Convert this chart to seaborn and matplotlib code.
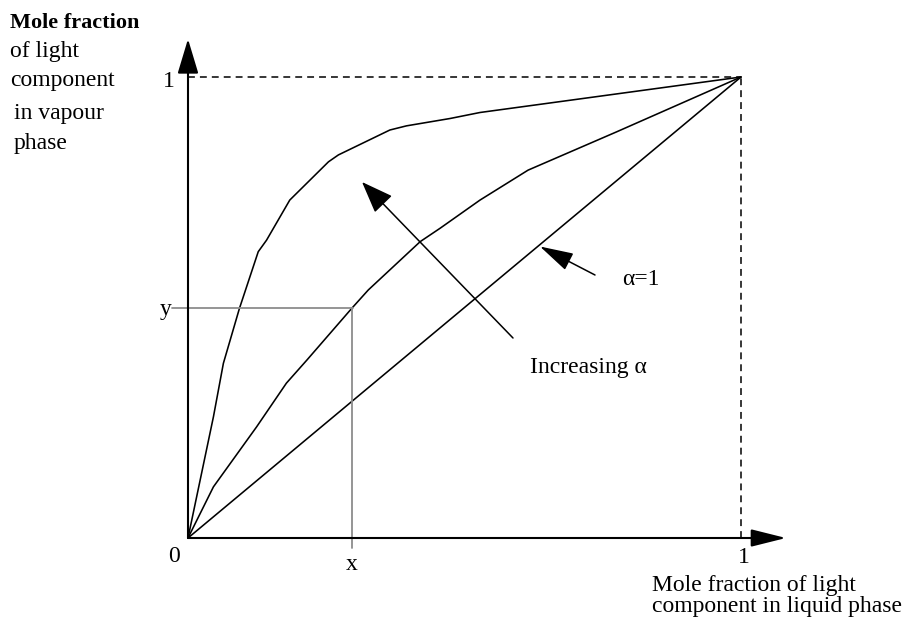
import matplotlib
matplotlib.use("Agg")
import matplotlib.pyplot as plt
import seaborn as sns
import pandas as pd

# ---- data ----
upper_x = [0.0, 0.046, 0.064, 0.093, 0.127, 0.142, 0.184, 0.254, 0.272, 0.365, 0.395, 0.474, 0.528, 1.0]
upper_y = [0.0, 0.263, 0.379, 0.498, 0.621, 0.646, 0.733, 0.816, 0.831, 0.885, 0.894, 0.910, 0.923, 1.0]
middle_x = [0.0, 0.046, 0.124, 0.178, 0.215, 0.296, 0.326, 0.420, 0.456, 0.528, 0.615, 0.775, 1.0]
middle_y = [0.0, 0.111, 0.241, 0.336, 0.386, 0.498, 0.538, 0.643, 0.672, 0.733, 0.798, 0.881, 1.0]
diag_x = [0.0, 1.0]
diag_y = [0.0, 1.0]
x_read = 0.296
y_read = 0.498

y_label_lines = ["Mole fraction", "of light", "component", "in vapour", "phase"]
x_label_lines = ["Mole fraction of light", "component in liquid phase"]

sns.set_theme(style="white")
plt.rcParams['font.family'] = ['Liberation Serif', 'DejaVu Serif']

W, H = 909, 626
fig = plt.figure(figsize=(W / 100, H / 100), dpi=100)
ax = fig.add_axes([0, 0, 1, 1])
X0, Y0, SX, SY = 188, 538, 553, 461
ax.set_xlim(-X0 / SX, (W - X0) / SX)
ax.set_ylim((Y0 - H) / SY, Y0 / SY)
ax.axis('off')


def P(px, py):
    return ((px - X0) / SX, (Y0 - py) / SY)


FS = 17
K = 'black'

# curves
for xs, ys in [(upper_x, upper_y), (middle_x, middle_y), (diag_x, diag_y)]:
    df = pd.DataFrame({"x": xs, "y": ys})
    sns.lineplot(data=df, x="x", y="y", sort=False, estimator=None,
                 color=K, lw=1.15, ax=ax)

# dashed unit box
ax.plot([0, 1], [1, 1], color=K, lw=1.1, ls=(0, (4.5, 3.3)))
ax.plot([1, 1], [0, 1], color=K, lw=1.1, ls=(0, (4.5, 3.3)))

# gray read-off lines
gx0, _ = P(172, 0)
_, gy0 = P(0, 548)
ax.plot([gx0, x_read + 0.003], [y_read, y_read], color='#8c8c8c', lw=1.3)
ax.plot([x_read, x_read], [y_read, gy0], color='#8c8c8c', lw=1.3)


def arrow(tip, tail, L, Wd, lw):
    ax.annotate('', xy=tip, xytext=tail,
                arrowprops=dict(arrowstyle=f'-|>,head_length={L},head_width={Wd}',
                                mutation_scale=1, lw=lw, color=K,
                                shrinkA=0, shrinkB=0))


# axes with arrows
arrow(P(786, 538), (0, 0), 21.6, 5.4, 1.5)
arrow(P(188, 39), (0, 0), 21.6, 6.5, 1.5)

# annotation arrows
arrow(P(362, 182), P(513, 338), 20, 7.6, 1.1)
arrow(P(540, 246.5), P(595, 275), 21, 5.8, 1.1)


def T(px, py, s, ha='left', fs=FS, **kw):
    fig.text(px / W, 1 - py / H, s, ha=ha, va='baseline', fontsize=fs, color=K, **kw)


# y label block
base = [28, 57, 86, 119, 149]
xs_lab = [10, 10, 10, 14, 14]
for i, (line, b, xl) in enumerate(zip(y_label_lines, base, xs_lab)):
    if i == 0:
        T(xl, b, line, fs=16, fontweight='bold')
    else:
        T(xl, b, line)

# ticks / labels
T(175, 87, "1", ha='right')
T(172, 315, "y", ha='right')
T(180, 562, "0", ha='right')
T(352, 570, "x", ha='center')
T(744, 563, "1", ha='center')
T(652, 591, x_label_lines[0])
T(652, 612, x_label_lines[1])
T(622, 285, "α=1")
T(530, 373, "Increasing α")

fig.savefig("out.png", dpi=100)
